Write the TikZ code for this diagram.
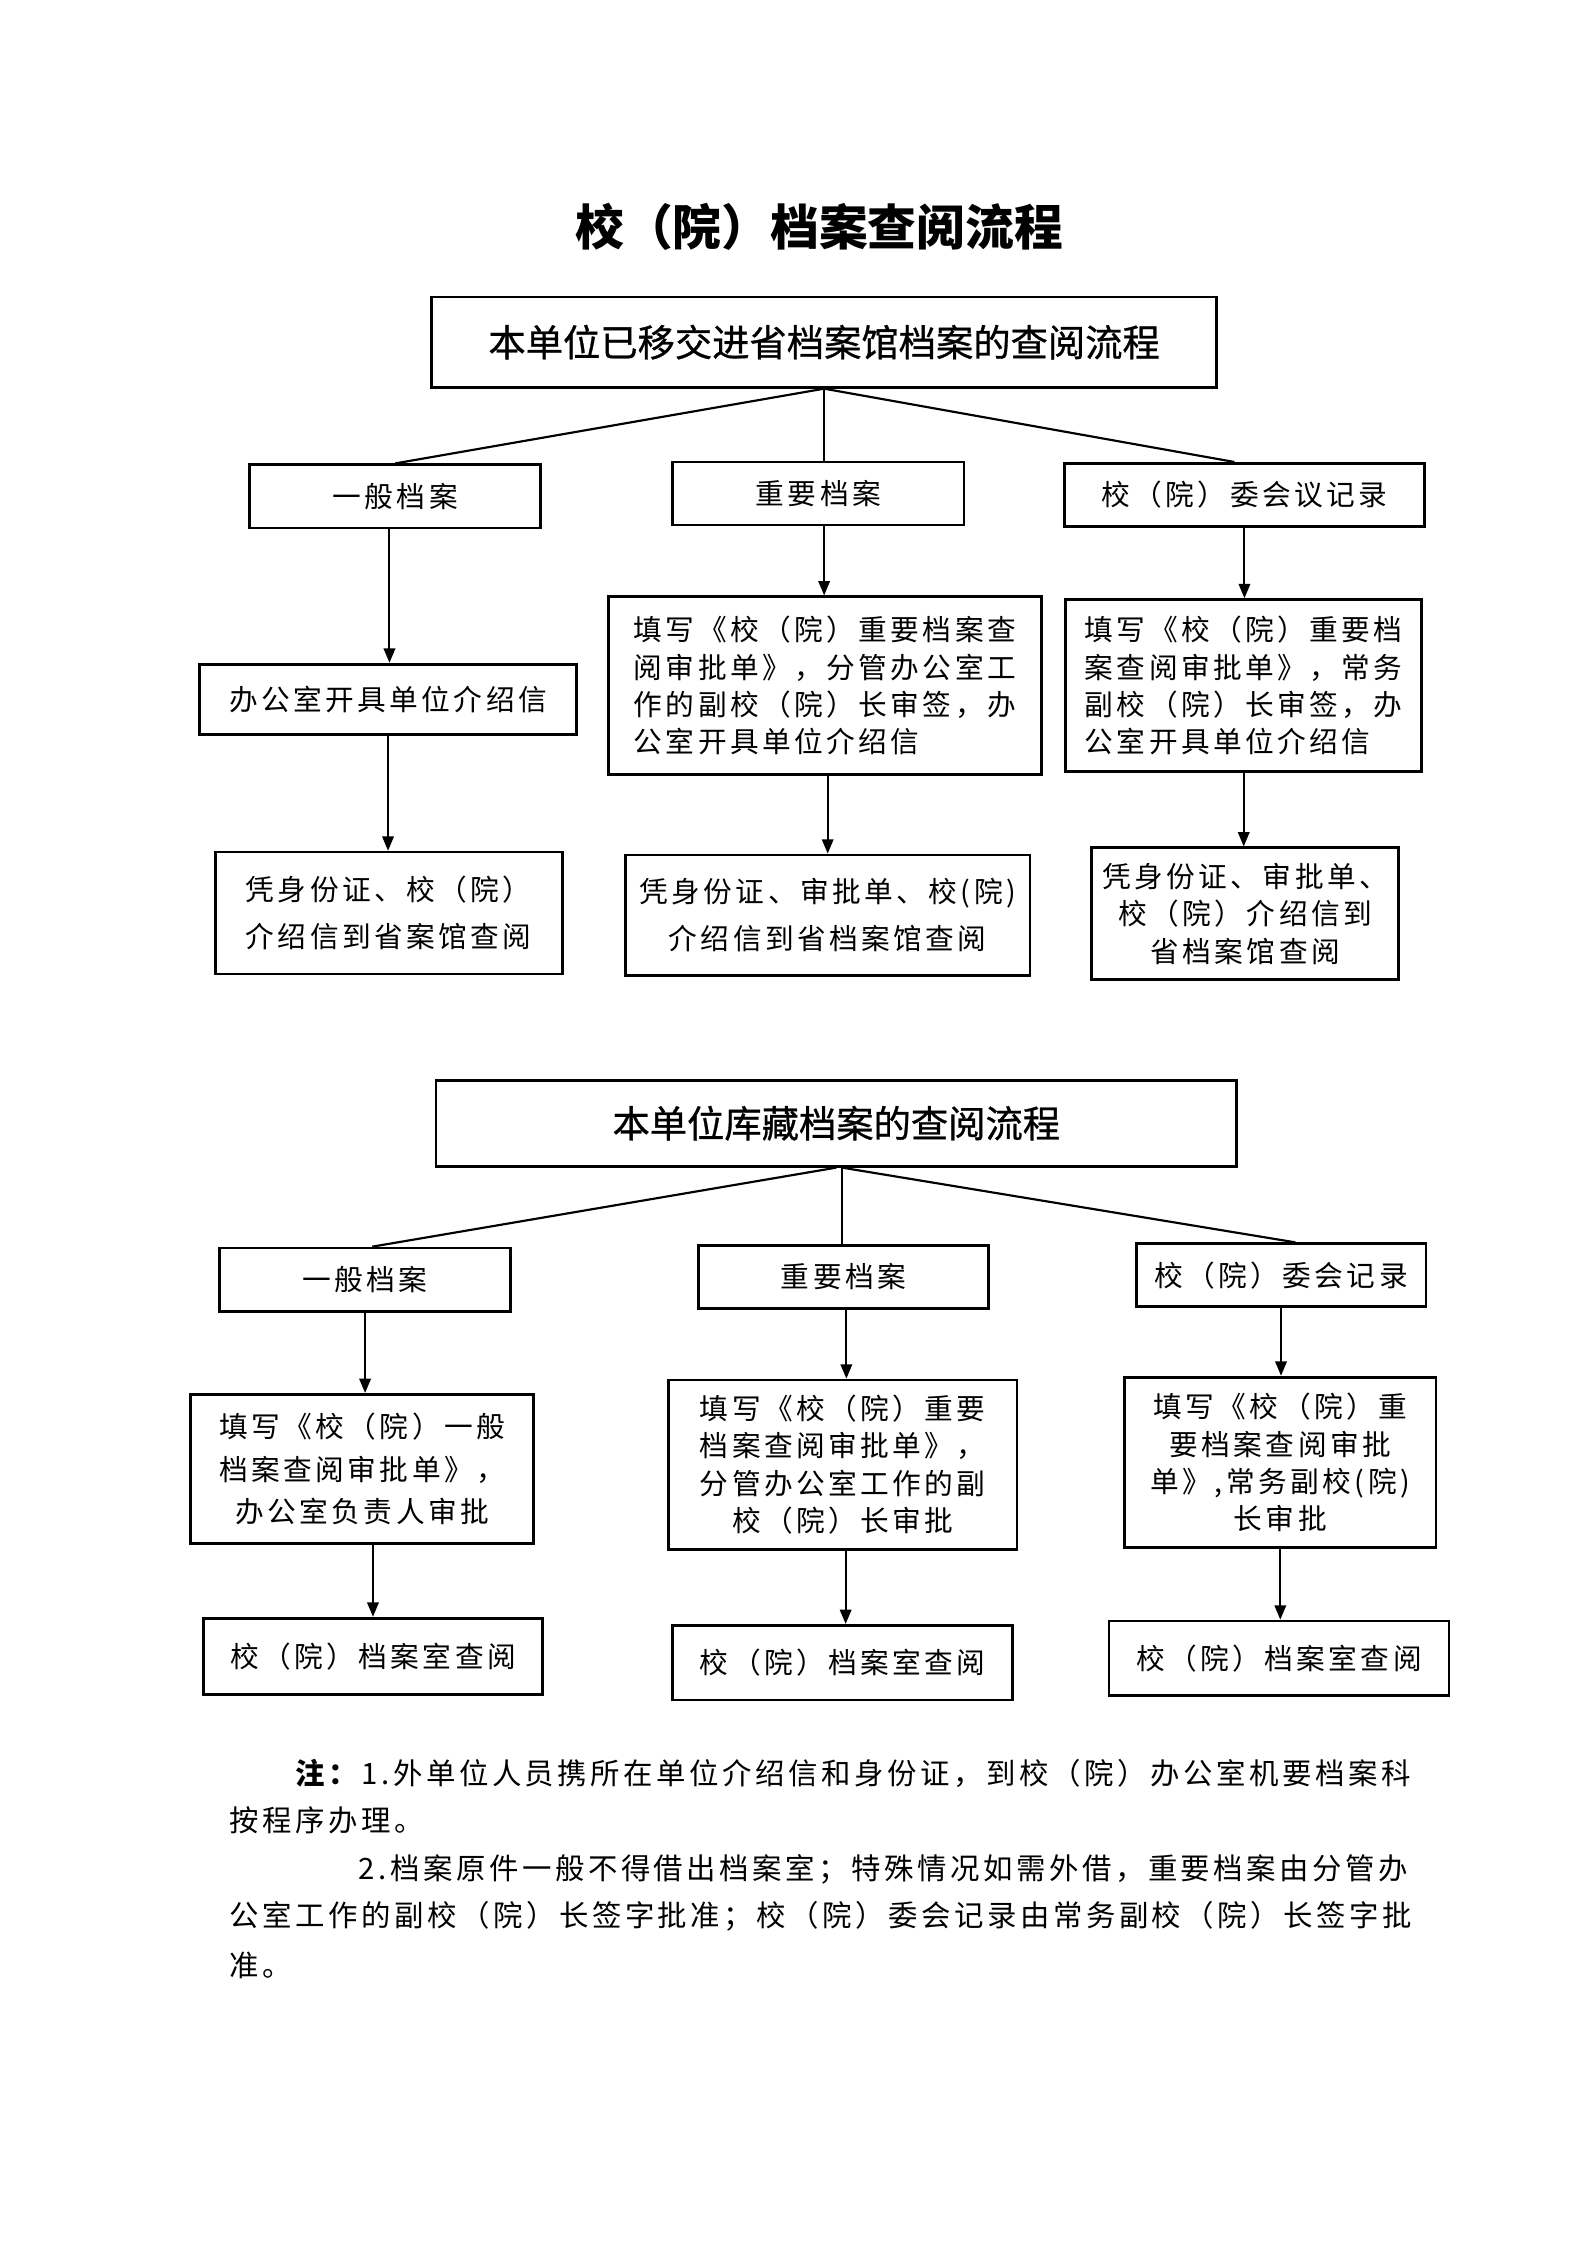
\documentclass[tikz,border=0pt]{standalone}
\usepackage{fontspec}
\usetikzlibrary{arrows.meta}
\newfontfamily\cjk[LetterSpace=12]{Noto Sans CJK SC}
\newfontfamily\cjkh[FakeBold=0.8]{Noto Sans CJK SC}
\newfontfamily\cjkt{Noto Sans CJK SC}
\begin{document}
\begin{tikzpicture}[x=1pt,y=-1pt,
  box/.style={draw,line width=1.9pt,inner sep=0pt,font=\cjk\fontsize{20}{26}\selectfont},
  hbox/.style={draw,line width=1.9pt,inner sep=0pt,font=\cjkh\fontsize{26}{30}\selectfont},
  link/.style={line width=1.5pt},
  arr/.style={line width=1.4pt,-{Triangle[length=10pt,width=8pt]}},
  note/.style={anchor=west,inner sep=0pt,font=\cjk\fontsize{20.5}{26}\selectfont}]
\useasboundingbox (0,0) rectangle (1106,1565);
\fill[white] (0,0) rectangle (1106,1565);

\node[font=\cjkt\bfseries\fontsize{34}{40}\selectfont] (title) at (571,158) {校（院）档案查阅流程};

% ---------- section 1 ----------
\node[hbox,minimum width=547,minimum height=63] (h1) at (574.5,238.5) {本单位已移交进省档案馆档案的查阅流程};

\node[box,minimum width=203,minimum height=44] (a1) at (275.5,346) {一般档案};
\node[box,minimum width=203,minimum height=44] (b1) at (570.5,344) {重要档案};
\node[box,minimum width=251,minimum height=44] (c1) at (867.5,345) {校（院）委会议记录};

\node[box,minimum width=263,minimum height=49] (a2) at (270.5,487.5) {办公室开具单位介绍信};
\node[box,minimum width=302,minimum height=124,align=left] (b2) at (575,478)
  {填写《校（院）重要档案查\\阅审批单》，分管办公室工\\作的副校（院）长审签，办\\公室开具单位介绍信};
\node[box,minimum width=248,minimum height=120,align=left] (c2) at (867,478)
  {填写《校（院）重要档\\案查阅审批单》，常务\\副校（院）长审签，办\\公室开具单位介绍信};

\node[box,minimum width=242,minimum height=85,align=left,font=\cjk\fontsize{20}{33}\selectfont] (a3) at (271,636.5)
  {凭身份证、校（院）\\介绍信到省案馆查阅};
\node[box,minimum width=282,minimum height=84,align=center,font=\cjk\fontsize{20}{33}\selectfont] (b3) at (577,638)
  {凭身份证、审批单、校(院)\\介绍信到省档案馆查阅};
\node[box,minimum width=214,minimum height=92,align=center] (c3) at (868,637)
  {凭身份证、审批单、\\校（院）介绍信到\\省档案馆查阅};

\draw[link] (h1.south) -- (a1.north);
\draw[link] (h1.south) -- (h1.south |- b1.north);
\draw[link] (h1.south) -- ([xshift=-7pt]c1.north);

\draw[arr] ([xshift=-4pt]a1.south) -- ([xshift=-4pt]a1.south |- a2.north);
\draw[arr] (a2.south) -- (a2.south |- a3.north);
\draw[arr] ([xshift=4pt]b1.south) -- ([xshift=4pt]b1.south |- b2.north);
\draw[arr] ([xshift=2pt]b2.south) -- ([xshift=2pt]b2.south |- b3.north);
\draw[arr] (c1.south) -- (c1.south |- c2.north);
\draw[arr] (c2.south) -- (c2.south |- c3.north);

% ---------- section 2 ----------
\node[hbox,minimum width=558,minimum height=60] (h2) at (583,783) {本单位库藏档案的查阅流程};

\node[box,minimum width=203,minimum height=44] (d1) at (254.5,892) {一般档案};
\node[box,minimum width=202,minimum height=44] (e1) at (588,890) {重要档案};
\node[box,minimum width=202,minimum height=44] (f1) at (893,889) {校（院）委会记录};

\node[box,minimum width=239,minimum height=104,align=center,font=\cjk\fontsize{20}{29.5}\selectfont] (d2) at (252.5,1024)
  {填写《校（院）一般\\档案查阅审批单》，\\办公室负责人审批};
\node[box,minimum width=243,minimum height=118,align=center] (e2) at (587.5,1021)
  {填写《校（院）重要\\档案查阅审批单》，\\分管办公室工作的副\\校（院）长审批};
\node[box,minimum width=217,minimum height=119,align=center] (f2) at (892.5,1019.5)
  {填写《校（院）重\\要档案查阅审批\\单》,常务副校(院)\\长审批};

\node[box,minimum width=236,minimum height=53] (d3) at (260,1154.5) {校（院）档案室查阅};
\node[box,minimum width=237,minimum height=52] (e3) at (587.5,1159) {校（院）档案室查阅};
\node[box,minimum width=237,minimum height=52] (f3) at (891.5,1156) {校（院）档案室查阅};

\draw[link] (h2.south) -- ([xshift=5pt]d1.north);
\draw[link] ([xshift=4pt]h2.south) -- ([xshift=4pt]h2.south |- e1.north);
\draw[link] ([xshift=4pt]h2.south) -- ([xshift=10pt]f1.north);

\draw[arr] (d1.south) -- (d1.south |- d2.north);
\draw[arr] (d3.north |- d2.south) -- (d3.north);
\draw[arr] ([xshift=2pt]e1.south) -- ([xshift=2pt]e1.south |- e2.north);
\draw[arr] ([xshift=2pt]e2.south) -- ([xshift=2pt]e2.south |- e3.north);
\draw[arr] (f1.south) -- (f1.south |- f2.north);
\draw[arr] (f2.south) -- (f2.south |- f3.north);

% ---------- notes ----------
\node[note] (n1) at (206,1236) {\textbf{注：}1.外单位人员携所在单位介绍信和身份证，到校（院）办公室机要档案科};
\node[note] (n2) at (160,1269) {按程序办理。};
\node[note] (n3) at (250,1303) {2.档案原件一般不得借出档案室；特殊情况如需外借，重要档案由分管办};
\node[note] (n4) at (160,1336) {公室工作的副校（院）长签字批准；校（院）委会记录由常务副校（院）长签字批};
\node[note] (n5) at (160,1370) {准。};
\end{tikzpicture}
\end{document}
